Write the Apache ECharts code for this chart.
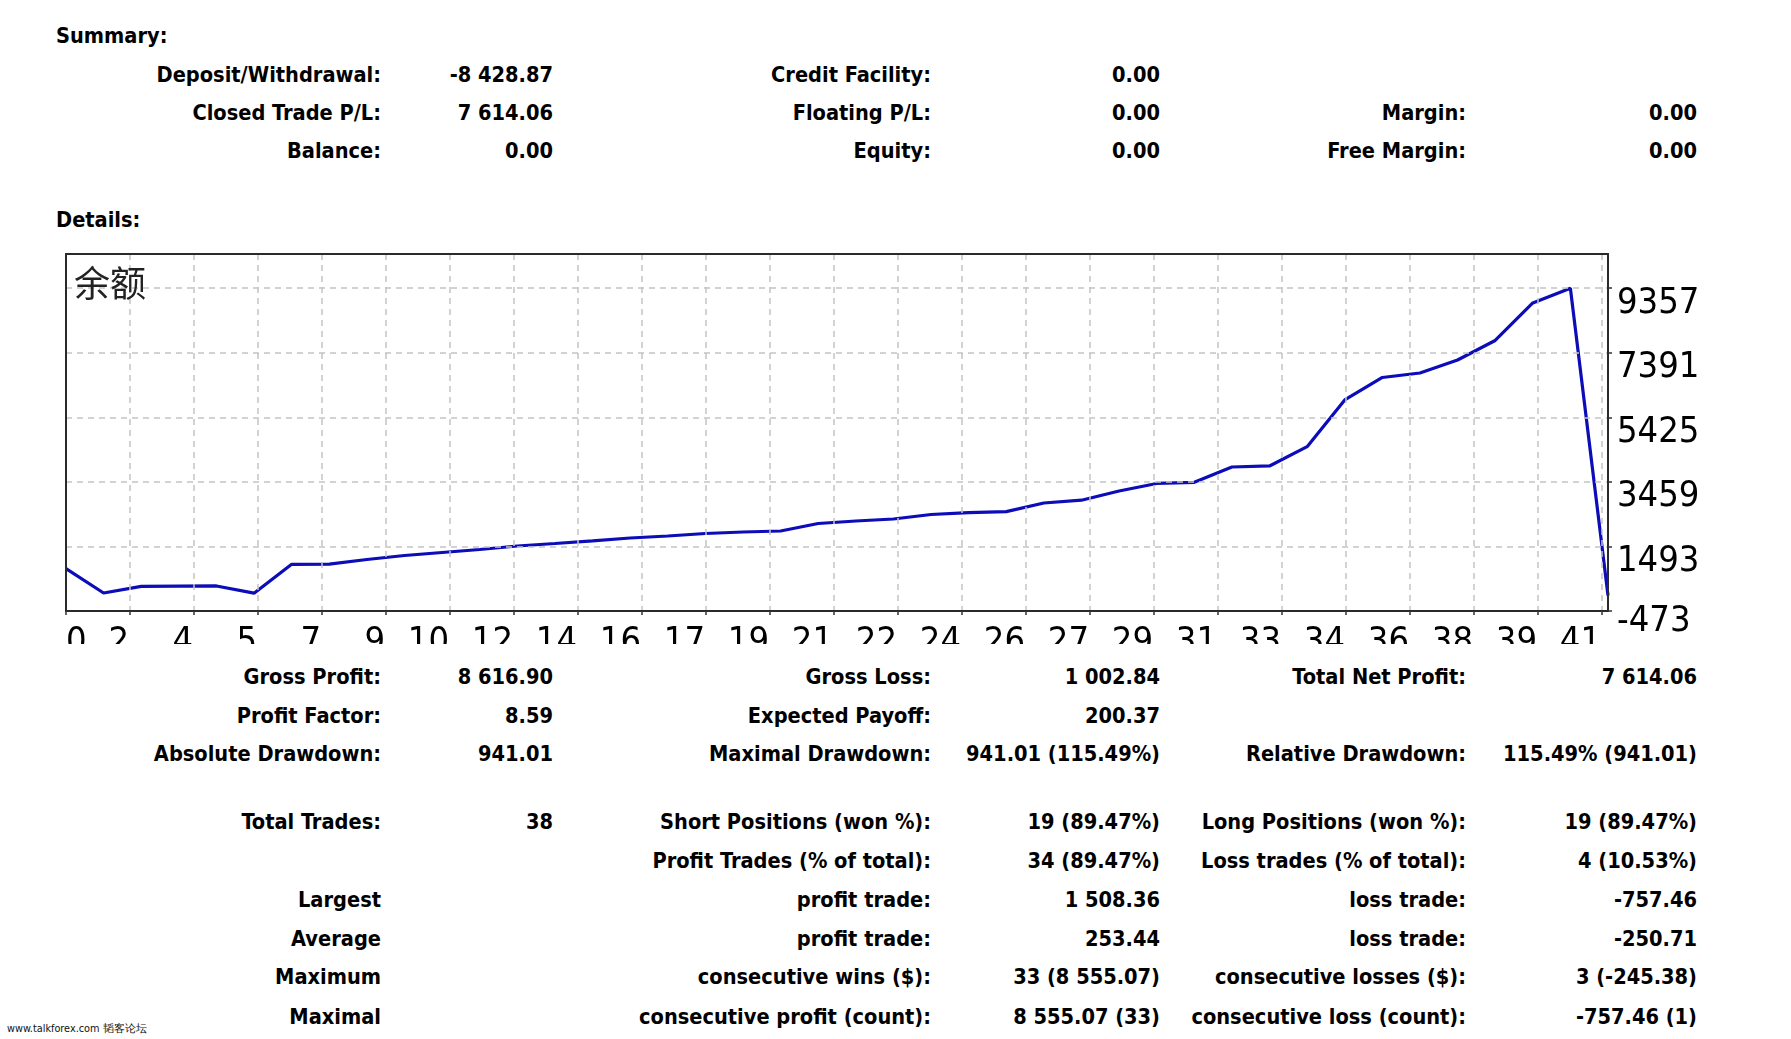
<!DOCTYPE html>
<html>
<head>
<meta charset="utf-8">
<script src="https://cdn.jsdelivr.net/npm/echarts@6/dist/echarts.min.js"></script>
<style>
html, body { margin: 0; padding: 0; background: #fff; }
#page { position: relative; width: 1791px; height: 1039px; overflow: hidden; background: #fff; color: #000; }
.t { position: absolute; white-space: nowrap; font-family: "DejaVu Sans Condensed", "DejaVu Sans", sans-serif; font-weight: bold; font-size: 21.6px; height: 26px; line-height: 26px; }
.r { text-align: right; }
#chart { position: absolute; left: 0; top: 240px; width: 1791px; height: 404px; }
#wm { position: absolute; left: 7px; top: 1022px; font-family: "DejaVu Sans Condensed", "DejaVu Sans", sans-serif; font-size: 10.8px; line-height: 14px; color: #111; white-space: nowrap; }
</style>
</head>
<body>
<div id="page">
  <div id="chart"></div>
  <div id="wm">www.talkforex.com 韬客论坛</div>
</div>
<script>
// ---------- data ----------
const TRADE_INDEX = [0,1,2,3,4,5,6,7,8,9,10,11,12,13,14,15,16,17,18,19,20,21,22,23,24,25,26,27,28,29,30,31,32,33,34,35,36,37,38,39,40,41];
const BALANCE = [815,75,279,285,290,70,950,955,1096,1217,1309,1400,1507,1583,1665,1751,1812,1888,1933,1964,2192,2268,2329,2466,2521,2552,2817,2902,3182,3411,3447,3913,3944,4532,5954,6639,6776,7172,7766,8909,9357,0];
const X_TICK_LABELS = ['0','2','4','5','7','9','10','12','14','16','17','19','21','22','24','26','27','29','31','33','34','36','38','39','41'];
const Y_TICK_LABELS = ['-473','1493','3459','5425','7391','9357'];
const CHART_TITLE = '余额';

const SUMMARY_TITLE = 'Summary:';
const DETAILS_TITLE = 'Details:';
const SUMMARY_ROWS = [
  ['Deposit/Withdrawal:', '-8 428.87', 'Credit Facility:', '0.00', '', ''],
  ['Closed Trade P/L:', '7 614.06', 'Floating P/L:', '0.00', 'Margin:', '0.00'],
  ['Balance:', '0.00', 'Equity:', '0.00', 'Free Margin:', '0.00']
];
const DETAIL_ROWS = [
  ['Gross Profit:', '8 616.90', 'Gross Loss:', '1 002.84', 'Total Net Profit:', '7 614.06'],
  ['Profit Factor:', '8.59', 'Expected Payoff:', '200.37', '', ''],
  ['Absolute Drawdown:', '941.01', 'Maximal Drawdown:', '941.01 (115.49%)', 'Relative Drawdown:', '115.49% (941.01)'],
  ['Total Trades:', '38', 'Short Positions (won %):', '19 (89.47%)', 'Long Positions (won %):', '19 (89.47%)'],
  ['', '', 'Profit Trades (% of total):', '34 (89.47%)', 'Loss trades (% of total):', '4 (10.53%)'],
  ['Largest', '', 'profit trade:', '1 508.36', 'loss trade:', '-757.46'],
  ['Average', '', 'profit trade:', '253.44', 'loss trade:', '-250.71'],
  ['Maximum', '', 'consecutive wins ($):', '33 (8 555.07)', 'consecutive losses ($):', '3 (-245.38)'],
  ['Maximal', '', 'consecutive profit (count):', '8 555.07 (33)', 'consecutive loss (count):', '-757.46 (1)']
];

// ---------- layout (text tables) ----------
const PAGE_W = 1791;
const COL_RIGHT = [381, 553, 931, 1160, 1466, 1697];
const SUMMARY_Y = [74.6, 113.0, 151.3];
const DETAIL_Y = [676.8, 715.5, 754.3, 822.0, 860.8, 900.0, 938.8, 977.3, 1016.8];
const page = document.getElementById('page');

function addText(txt, cy, opts) {
  if (!txt) return;
  const d = document.createElement('div');
  d.className = 't' + (opts.right !== undefined ? ' r' : '');
  d.textContent = txt;
  d.style.top = (cy - 13) + 'px';
  if (opts.right !== undefined) d.style.right = (PAGE_W - opts.right) + 'px';
  else d.style.left = opts.left + 'px';
  page.appendChild(d);
}
addText(SUMMARY_TITLE, 35.5, {left: 56});
addText(DETAILS_TITLE, 219.5, {left: 56});
SUMMARY_ROWS.forEach((row, r) => row.forEach((txt, c) => addText(txt, SUMMARY_Y[r], {right: COL_RIGHT[c]})));
DETAIL_ROWS.forEach((row, r) => row.forEach((txt, c) => addText(txt, DETAIL_Y[r], {right: COL_RIGHT[c]})));

// ---------- chart ----------
const X_MIN = 0, X_MAX = 41, X_STEP = 1.70168;
const Y_MIN = -473, Y_MAX = 10400, Y_STEP = 1966;
const AXIS_FONT = '"DejaVu Sans Condensed", "DejaVu Sans", sans-serif';
const BORDER = {show: true, onZero: false, lineStyle: {color: '#2a2a2a', width: 2}};
const GRID_LINE = {show: true, showMinLine: false, showMaxLine: false, lineStyle: {color: '#c4c4c4', width: 1.5, type: [6, 5]}};

const chart = echarts.init(document.getElementById('chart'), null, {renderer: 'canvas'});
chart.setOption({
  animation: false,
  backgroundColor: 'transparent',
  grid: {
    left: 66, top: 14, width: 1542, height: 357,
    containLabel: false, outerBoundsMode: 'none', show: false
  },
  xAxis: [{
    type: 'value', position: 'bottom', min: X_MIN, max: X_MAX, interval: X_STEP,
    axisLine: BORDER,
    axisTick: {show: true, length: 4, lineStyle: {color: '#333', width: 1.5}},
    splitLine: GRID_LINE,
    axisLabel: {
      show: true, fontSize: 36, lineHeight: 30, fontFamily: AXIS_FONT, color: '#000',
      margin: 17, align: 'right', alignMinLabel: 'left', padding: [0, 1, 0, 0],
      showMaxLabel: false, hideOverlap: false,
      formatter: (v, i) => (X_TICK_LABELS[i] !== undefined ? X_TICK_LABELS[i] : '')
    },
    z: 10
  }, {
    type: 'value', position: 'top', min: X_MIN, max: X_MAX,
    axisLine: BORDER, axisTick: {show: false}, axisLabel: {show: false}, splitLine: {show: false}, z: 10
  }],
  yAxis: [{
    type: 'value', position: 'right', min: Y_MIN, max: Y_MAX, interval: Y_STEP,
    axisLine: BORDER,
    axisTick: {show: true, length: 4, lineStyle: {color: '#333', width: 1.5}},
    splitLine: GRID_LINE,
    axisLabel: {
      show: true, fontSize: 36, lineHeight: 30, fontFamily: AXIS_FONT, color: '#000',
      margin: 9, verticalAlign: 'top', showMaxLabel: false, hideOverlap: false,
      formatter: (v, i) => (Y_TICK_LABELS[i] === undefined ? '' : (i === 0 ? '{lo|' + Y_TICK_LABELS[i] + '}' : Y_TICK_LABELS[i])),
      rich: {lo: {fontSize: 36, lineHeight: 22, fontFamily: AXIS_FONT, color: '#000'}}
    },
    z: 10
  }, {
    type: 'value', position: 'left', min: Y_MIN, max: Y_MAX,
    axisLine: BORDER, axisTick: {show: false}, axisLabel: {show: false}, splitLine: {show: false}, z: 10
  }],
  graphic: [{
    type: 'text', left: 74, top: 25, z: 20,
    style: {text: CHART_TITLE, font: '36px "Noto Sans CJK SC", sans-serif', fill: '#222'}
  }],
  series: [{
    type: 'line',
    data: TRADE_INDEX.map((x, i) => [x, BALANCE[i]]),
    showSymbol: false,
    lineStyle: {color: '#0c0cb8', width: 3.2},
    z: 5
  }]
});
</script>
</body>
</html>
